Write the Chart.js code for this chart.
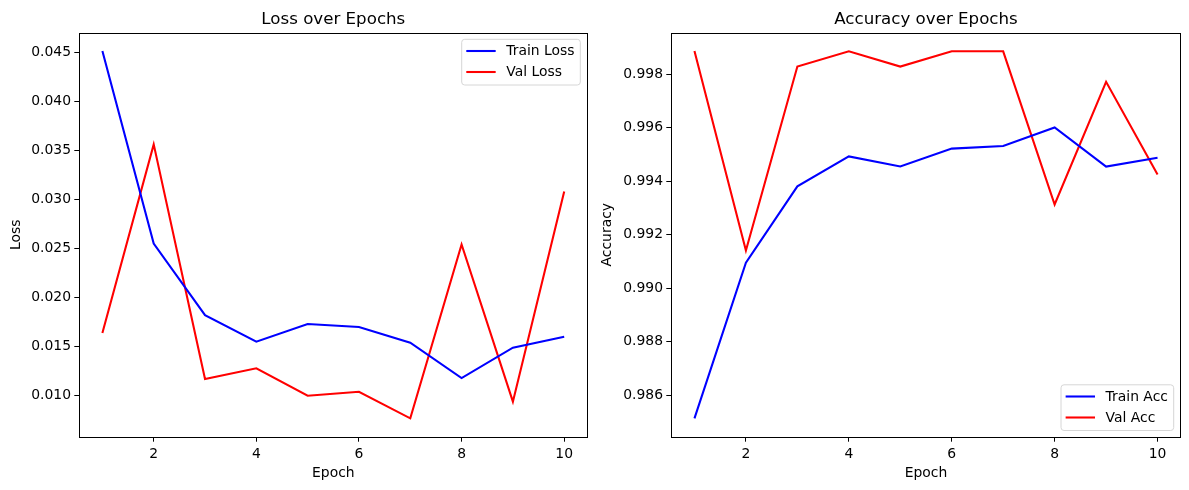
<!DOCTYPE html>
<html>
<head>
<meta charset="utf-8">
<script src="https://cdn.jsdelivr.net/npm/chart.js@4.4.1/dist/chart.umd.min.js"></script>
<style>
  html, body { margin: 0; padding: 0; background: #ffffff; }
  #wrap { position: relative; width: 1189px; height: 490px; overflow: hidden; background: #fff; }
  #c1 { position: absolute; left: 0; top: 0; }
  #c2 { position: absolute; left: 595px; top: 0; }
</style>
</head>
<body>
<div id="wrap">
  <canvas id="c1" width="595" height="490"></canvas>
  <canvas id="c2" width="594" height="490"></canvas>
</div>
<script>
// ---------- data ----------
const epochs = [1, 2, 3, 4, 5, 6, 7, 8, 9, 10];
const trainLoss = [0.0451, 0.0255, 0.0182, 0.0155, 0.0173, 0.0170, 0.0154, 0.0118, 0.0149, 0.0160];
const valLoss   = [0.0164, 0.0356, 0.0117, 0.0128, 0.0100, 0.0104, 0.0077, 0.0254, 0.0094, 0.0308];
const trainAcc  = [0.98513, 0.99095, 0.99381, 0.99493, 0.99455, 0.99522, 0.99532, 0.99601, 0.99455, 0.99488];
const valAcc    = [0.99887, 0.99141, 0.99829, 0.99886, 0.99829, 0.99886, 0.99886, 0.99313, 0.99772, 0.99425];
const epochTickLabels = ['2', '4', '6', '8', '10'];
const lossTickLabels = ['0.010', '0.015', '0.020', '0.025', '0.030', '0.035', '0.040', '0.045'];
const accTickLabels  = ['0.986', '0.988', '0.990', '0.992', '0.994', '0.996', '0.998'];

const FONT = "'DejaVu Sans', 'Liberation Sans', sans-serif";
const TICK_PX = 13.9;
const TITLE_PX = 16.67;

function padLimits(arrs) {
  const all = [].concat(...arrs);
  const mn = Math.min(...all), mx = Math.max(...all);
  const m = (mx - mn) * 0.05;
  return [mn - m, mx + m];
}

const frameTitleLegend = {
  id: 'mplDecor',
  afterDraw(chart) {
    const o = chart.options.plugins.mplDecor;
    const ctx = chart.ctx;
    const a = chart.chartArea;
    ctx.save();
    // frame
    ctx.strokeStyle = '#000';
    ctx.lineWidth = 1;
    ctx.strokeRect(Math.round(a.left) + 0.5, Math.round(a.top) + 0.5,
                   Math.round(a.right - a.left), Math.round(a.bottom - a.top));
    // title
    ctx.fillStyle = '#000';
    ctx.font = TITLE_PX + 'px ' + FONT;
    ctx.textAlign = 'center';
    ctx.textBaseline = 'alphabetic';
    ctx.fillText(o.title, (a.left + a.right) / 2, a.top - 8.5);
    // legend
    ctx.font = TICK_PX + 'px ' + FONT;
    const ds = chart.data.datasets;
    let tw = 0;
    ds.forEach(d => { tw = Math.max(tw, ctx.measureText(d.label).width); });
    const padL = 4.6, handle = 29.4, gap = 10.6, padR = 5.8;
    const w = padL + handle + gap + tw + padR;
    const h = 45.7;
    const x = a.right - 7 - w;
    const y = o.legendLoc === 'upper right' ? a.top + 6.6 : a.bottom - 6.2 - h;
    const r = 3;
    ctx.beginPath();
    ctx.moveTo(x + r, y);
    ctx.lineTo(x + w - r, y);
    ctx.quadraticCurveTo(x + w, y, x + w, y + r);
    ctx.lineTo(x + w, y + h - r);
    ctx.quadraticCurveTo(x + w, y + h, x + w - r, y + h);
    ctx.lineTo(x + r, y + h);
    ctx.quadraticCurveTo(x, y + h, x, y + h - r);
    ctx.lineTo(x, y + r);
    ctx.quadraticCurveTo(x, y, x + r, y);
    ctx.closePath();
    ctx.fillStyle = 'rgba(255,255,255,0.8)';
    ctx.fill();
    ctx.strokeStyle = '#d6d6d6';
    ctx.lineWidth = 1;
    ctx.stroke();
    ds.forEach((d, i) => {
      const cy = y + 11.7 + i * 21;
      ctx.strokeStyle = d.borderColor;
      ctx.lineWidth = 2.08;
      ctx.beginPath();
      ctx.moveTo(x + padL, cy);
      ctx.lineTo(x + padL + handle, cy);
      ctx.stroke();
      ctx.fillStyle = '#000';
      ctx.textAlign = 'left';
      ctx.textBaseline = 'middle';
      ctx.fillText(d.label, x + padL + handle + gap, cy + 0.5);
    });
    ctx.restore();
  }
};

function makeChart(canvasId, cfg) {
  const [ymin, ymax] = padLimits([cfg.s1, cfg.s2]);
  const xTickVals = epochTickLabels.map(Number);
  const yTickVals = cfg.yTicks.map(Number);
  return new Chart(document.getElementById(canvasId), {
    type: 'line',
    data: {
      datasets: [
        { label: cfg.l1, data: epochs.map((e, i) => ({ x: e, y: cfg.s1[i] })),
          borderColor: '#0000ff', backgroundColor: '#0000ff', borderWidth: 2.08,
          pointRadius: 0, tension: 0, fill: false },
        { label: cfg.l2, data: epochs.map((e, i) => ({ x: e, y: cfg.s2[i] })),
          borderColor: '#ff0000', backgroundColor: '#ff0000', borderWidth: 2.08,
          pointRadius: 0, tension: 0, fill: false }
      ]
    },
    options: {
      responsive: false,
      animation: false,
      devicePixelRatio: 1,
      layout: { padding: { top: 32.7, right: cfg.padRight, left: 0, bottom: 0 } },
      plugins: {
        legend: { display: false },
        title: { display: false },
        tooltip: { enabled: false },
        mplDecor: { title: cfg.title, legendLoc: cfg.legendLoc }
      },
      scales: {
        x: {
          type: 'linear',
          min: 0.55, max: 10.45,
          afterBuildTicks: s => { s.ticks = xTickVals.map(v => ({ value: v })); },
          afterFit: s => { s.height = 53.3; },
          grid: { display: true, drawOnChartArea: false, drawTicks: true, tickLength: 5, color: '#000', lineWidth: 1 },
          border: { display: false },
          ticks: { color: '#000', font: { family: FONT, size: TICK_PX }, padding: 4.3,
                   maxRotation: 0, autoSkip: false,
                   callback: (v) => epochTickLabels[xTickVals.indexOf(v)] ?? '' },
          title: { display: true, text: 'Epoch', color: '#000',
                   font: { family: FONT, size: TICK_PX, lineHeight: 1.2 },
                   padding: { top: 0, bottom: 8.0 } }
        },
        y: {
          type: 'linear',
          min: ymin, max: ymax,
          afterBuildTicks: s => { s.ticks = yTickVals.map(v => ({ value: v })); },
          afterFit: s => { s.width = cfg.yWidth; },
          grid: { display: true, drawOnChartArea: false, drawTicks: true, tickLength: 5, color: '#000', lineWidth: 1 },
          border: { display: false },
          ticks: { color: '#000', font: { family: FONT, size: TICK_PX }, padding: 3.3, autoSkip: false,
                   callback: (v) => {
                     const k = yTickVals.findIndex(t => Math.abs(t - v) < 1e-9);
                     return k >= 0 ? cfg.yTicks[k] : '';
                   } },
          title: { display: true, text: cfg.yTitle, color: '#000',
                   font: { family: FONT, size: TICK_PX, lineHeight: 1.2 },
                   padding: { top: cfg.yTitlePad, bottom: 0 } }
        }
      }
    },
    plugins: [frameTitleLegend]
  });
}

makeChart('c1', {
  s1: trainLoss, s2: valLoss, l1: 'Train Loss', l2: 'Val Loss',
  title: 'Loss over Epochs', yTitle: 'Loss', yTicks: lossTickLabels,
  legendLoc: 'upper right', yWidth: 79.3, padRight: 7.7, yTitlePad: 8.5
});
makeChart('c2', {
  s1: trainAcc, s2: valAcc, l1: 'Train Acc', l2: 'Val Acc',
  title: 'Accuracy over Epochs', yTitle: 'Accuracy', yTicks: accTickLabels,
  legendLoc: 'lower right', yWidth: 76.3, padRight: 8.3, yTitlePad: 3.6
});
</script>
</body>
</html>
